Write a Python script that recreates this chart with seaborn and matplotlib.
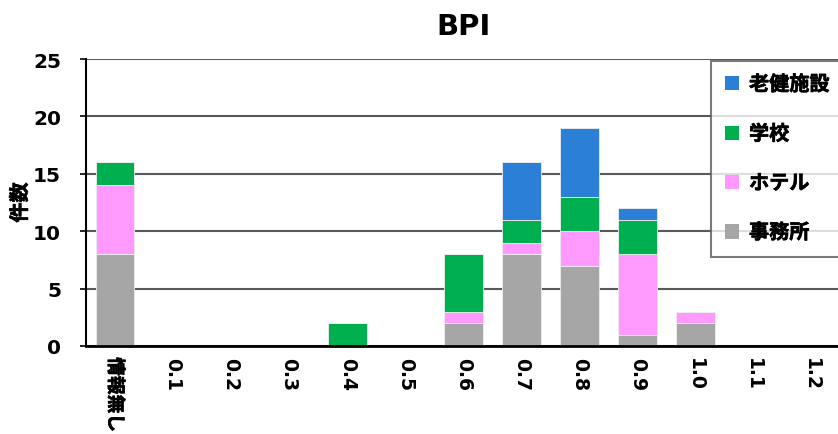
import numpy as np
import matplotlib
matplotlib.use("Agg")
import matplotlib.pyplot as plt
import matplotlib.patheffects as pe
import seaborn as sns
from matplotlib.patches import Patch

# data
categories = ['情報無し', '0.1', '0.2', '0.3', '0.4', '0.5', '0.6',
              '0.7', '0.8', '0.9', '1.0', '1.1', '1.2']
office = [8, 0, 0, 0, 0, 0, 2, 8, 7, 1, 2, 0, 0]     # 事務所
hotel = [6, 0, 0, 0, 0, 0, 1, 1, 3, 7, 1, 0, 0]      # ホテル
school = [2, 0, 0, 0, 2, 0, 5, 2, 3, 3, 0, 0, 0]     # 学校
care = [0, 0, 0, 0, 0, 0, 0, 5, 6, 1, 0, 0, 0]       # 老健施設

series = [('事務所', office, '#A6A6A6'),
          ('ホテル', hotel, '#FF99FF'),
          ('学校', school, '#00B050'),
          ('老健施設', care, '#2B7FD6')]

sns.set_style('white')
plt.rcParams['font.family'] = ['DejaVu Sans', 'Noto Sans CJK JP']
plt.rcParams['text.color'] = 'black'
plt.rcParams['axes.labelcolor'] = 'black'
plt.rcParams['xtick.color'] = 'black'
plt.rcParams['ytick.color'] = 'black'

# CJK font has no bold face here, so thicken the glyphs a bit
bold_fx = [pe.withStroke(linewidth=0.45, foreground='black')]

fig = plt.figure(figsize=(8.38, 4.35), dpi=100)
ax = fig.add_axes([0.1026, 0.2023, 0.9004, 0.6597])

bottom = np.zeros(len(categories))
for name, vals, col in series:
    sns.barplot(x=categories, y=vals, bottom=bottom, color=col, width=0.67,
                saturation=1, ax=ax, order=categories, linewidth=0.6,
                edgecolor='#eeeeee')
    bottom += np.array(vals)

ax.set_ylim(0, 25)
ax.set_yticks([0, 5, 10, 15, 20, 25])
ax.yaxis.grid(True, color='#595959', linewidth=1.5)
ax.set_axisbelow(True)
for s in ['top', 'right']:
    ax.spines[s].set_visible(False)
ax.spines['left'].set_color('black')
ax.spines['bottom'].set_color('black')
ax.spines['left'].set_linewidth(1.5)
ax.spines['bottom'].set_linewidth(2)
ax.tick_params(axis='y', length=4, width=1.2, color='black', left=True,
               labelsize=14.5, pad=14)
ax.tick_params(axis='x', length=0, labelsize=13.5, pad=8)
for lab in ax.get_yticklabels():
    lab.set_fontweight('bold')
for lab in ax.get_xticklabels():
    lab.set_fontweight('bold')
    lab.set_rotation(-90)
    lab.set_va('top')
    lab.set_ha('center')
ax.get_xticklabels()[0].set_path_effects(bold_fx)

ax.set_xlabel('')
ylab = ax.set_ylabel('件数', fontsize=14.5, fontweight='bold', labelpad=2)
ylab.set_path_effects(bold_fx)
ax.set_title('BPI', fontsize=21, fontweight='bold', pad=18)

handles = [Patch(facecolor=c, edgecolor='none', label=n) for n, _, c in reversed(series)]
leg = ax.legend(handles=handles, loc='upper left', bbox_to_anchor=(0.828, 0.993),
                borderaxespad=0, prop={'weight': 'bold', 'size': 14.5},
                handlelength=0.7, handleheight=0.7, handletextpad=0.5,
                labelspacing=1.5, borderpad=0.7, fancybox=False,
                frameon=True, edgecolor='#595959')
leg.get_frame().set_linewidth(1.5)
for t in leg.get_texts():
    t.set_path_effects(bold_fx)

fig.savefig('out.png', dpi=100)
